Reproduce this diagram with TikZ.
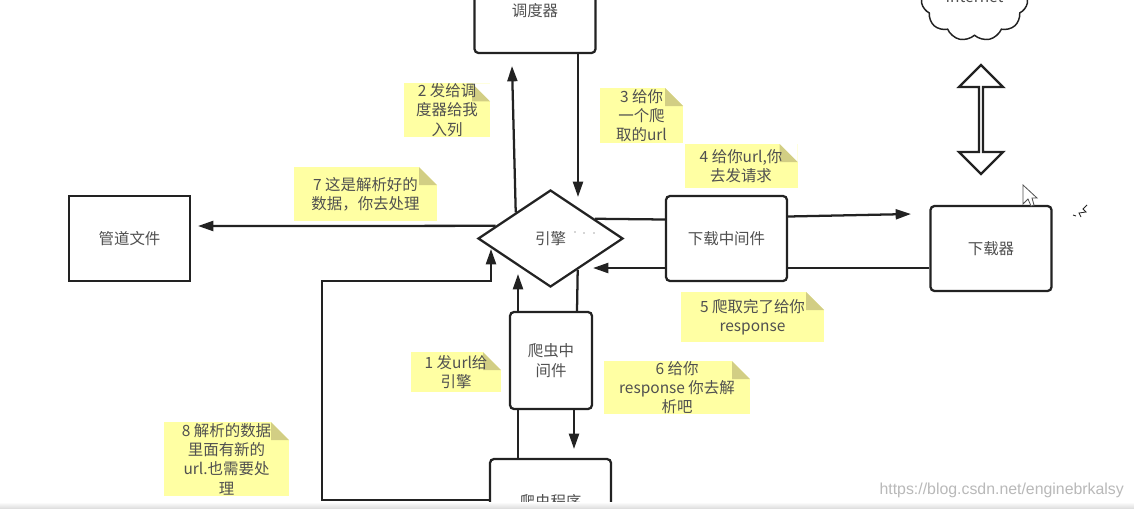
\documentclass[tikz,border=0pt]{standalone}
\usepackage{fontspec}
\setmainfont{Noto Sans CJK SC}
\newfontfamily\markfont{Liberation Sans}
\usetikzlibrary{shapes.geometric,shapes.symbols,shapes.arrows,arrows.meta}
\definecolor{notefill}{HTML}{FFFFA3}
\definecolor{notefold}{HTML}{D2CE84}
\definecolor{inkline}{HTML}{222222}
\definecolor{inktext}{HTML}{505050}
\begin{document}
\begin{tikzpicture}[x=0.75pt,y=-0.75pt,>={Triangle[length=11.5pt,width=7.5pt]},line width=1.7pt,draw=inkline]
  \tikzstyle{textfont}=[text=inktext, align=center, font=\fontsize{11.6}{14.5}\selectfont]
  \tikzstyle{block}=[textfont, draw=inkline, rounded corners=3pt, minimum width=90.75pt, minimum height=63.75pt, inner sep=0pt]
  \tikzstyle{note}=[textfont, fill=notefill, inner sep=0pt, path picture={
      \fill[white] ([xshift=-13.5pt]path picture bounding box.north east) -- (path picture bounding box.north east) -- ([yshift=-13.5pt]path picture bounding box.north east) -- cycle;
      \fill[notefold] ([xshift=-13.5pt]path picture bounding box.north east) -- ([yshift=-13.5pt]path picture bounding box.north east) -- ([xshift=-13.5pt,yshift=-13.5pt]path picture bounding box.north east) -- cycle;}]
  \tikzstyle{arrow}=[->, draw=inkline]
  \tikzstyle{link}=[draw=inkline]

  \useasboundingbox (0,0) rectangle (1134,508);
  \clip (0,0) rectangle (1134,508);
  \fill[white] (0,0) rectangle (1134,508);

  \node[note, minimum width=64.5pt, minimum height=37.5pt] (notetwo) at (447,110) {2 发给调\\度器给我\\入列};
  \node[note, minimum width=62.25pt, minimum height=41.25pt] (notethree) at (641.5,115.5) {3 给你\\一个爬\\取的url};
  \node[note, minimum width=84.75pt, minimum height=33pt] (notefour) at (741,166) {4 给你url,你\\去发请求};
  \node[note, minimum width=107.25pt, minimum height=40.5pt] (noteseven) at (365.5,194) {7 这是解析好的\\数据，你去处理};
  \node[note, minimum width=107.25pt, minimum height=37.5pt] (notefive) at (752.5,317) {5 爬取完了给你\\response};
  \node[note, minimum width=67.5pt, minimum height=30pt] (noteone) at (456,372) {1 发url给\\引擎};
  \node[note, minimum width=109.5pt, minimum height=32.25pt] (notesix) at (677,387.5) {6 给你\\response 你去解\\析吧};
  \node[note, minimum width=93.75pt, minimum height=55.5pt] (noteeight) at (226.5,459) {8 解析的数据\\里面有新的\\url.也需要处\\理};

  \node[block] (scheduler) at (535,10.5) {调度器};
  \node[block, rounded corners=0pt] (pipeline) at (129.5,238.5) {管道文件};
  \node[block] (dlmiddle) at (726.5,238.5) {下载中间件};
  \node[block] (downloader) at (991,248.5) {下载器};
  \node[block, minimum width=61.5pt, minimum height=72.75pt] (spmiddle) at (551,360.5) {爬虫中\\间件};
  \node[block] (spider) at (550.5,501.5) {爬虫程序};
  \node[textfont, draw=inkline, diamond, aspect=1.5, minimum width=108.75pt, minimum height=72.75pt, inner sep=0pt] (engine) at (550.5,238.5) {引擎};
  \node[textfont, draw=inkline, line width=1.1pt, cloud, cloud puffs=11, cloud puff arc=110, aspect=1.25, minimum width=80pt, minimum height=66pt, inner sep=0pt] (internet) at (974.5,-3) {Internet};
  \node[draw=inkline, double arrow, rotate=90, minimum height=81.75pt, minimum width=33pt, double arrow head extend=8.5pt, double arrow tip angle=90, inner sep=0pt] (updown) at (981,119.5) {};

  \coordinate (pipeend) at (198,226);
  \coordinate (schedend) at (512,66);
  \coordinate (engineend) at (578,197);
  \coordinate (dlend) at (911,214);
  \coordinate (backend) at (593,268);
  \coordinate (sptip) at (518,274);
  \coordinate (spiderend) at (574,449);
  \coordinate (loopa) at (322,500);
  \coordinate (loopb) at (322,281);
  \coordinate (loopc) at (491,281);
  \coordinate (looptip) at (491,249);

  \draw[arrow] (engine.167.6) -- (pipeend);
  \draw[arrow] (engine.143) -- (schedend);
  \draw[arrow] (scheduler.south -| engineend) -- (engineend);
  \draw[link] (engine.24) -- ([yshift=14.25pt]dlmiddle.west);
  \draw[arrow] ([yshift=16.5pt]dlmiddle.east) -- (dlend);
  \draw[link] (downloader.west |- backend) -- (dlmiddle.east |- backend);
  \draw[arrow] (dlmiddle.west |- backend) -- (backend);
  \draw[arrow] (spmiddle.north -| sptip) -- (sptip);
  \draw[link] (spmiddle.north -| 577,0) -- (engine.-49);
  \draw[link] (spmiddle.south -| sptip) -- (spider.north -| sptip);
  \draw[arrow] (spmiddle.south -| spiderend) -- (spiderend);
  \draw[arrow] (spider.west |- loopa) -- (loopa) -- (loopb) -- (loopc) -- (looptip);

  % cursor and screen specks
  \draw[line width=0.6pt, draw=inktext, fill=white] (1023,185) -- (1023,204) -- (1028,199) -- (1031,206) -- (1034,205) -- (1032,198) -- (1037,198) -- cycle;
  \draw[line width=0.6pt, draw=inkline] (1073,215) -- (1076,216) (1081,217) -- (1079,213) -- (1086,212) -- (1083,209) -- (1087,205);
  \fill[inktext] (561,232) circle (0.6) (575,232) circle (0.6) (584,233) circle (0.6) (594,233) circle (0.6);

  \shade[top color=white, bottom color=gray!25, draw=none] (0,502) rectangle (1134,508);
  \node[text=gray!55, inner sep=0pt, anchor=east, font=\fontsize{11.9}{13}\markfont] (watermark) at (1125,490) {https://blog.csdn.net/enginebrkalsy};
\end{tikzpicture}
\end{document}
